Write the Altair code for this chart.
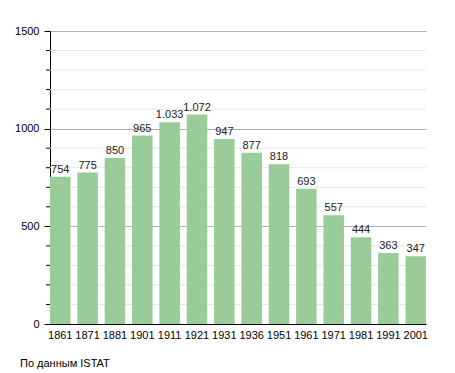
import altair as alt
import pandas as pd

years = ["1861", "1871", "1881", "1901", "1911", "1921", "1931", "1936", "1951", "1961", "1971", "1981", "1991", "2001"]
population = [754, 775, 850, 965, 1033, 1072, 947, 877, 818, 693, 557, 444, 363, 347]
labels = [f"{v:,}".replace(",", ".") for v in population]
major_ticks = [0, 500, 1000, 1500]
minor_ticks = [v for v in range(100, 1500, 100) if v % 500 != 0]

df = pd.DataFrame({"year": years, "pop": population, "label": labels})
minor_df = pd.DataFrame({"pop": minor_ticks})

font = "Liberation Sans"

yscale = alt.Scale(domain=[0, 1500], nice=False)

x = alt.X("year:N", sort=years, title=None,
          scale=alt.Scale(paddingInner=0.25, paddingOuter=0.0),
          axis=alt.Axis(labelAngle=0, ticks=False, domainColor="#000", labelColor="#000",
                        labelFontSize=11, labelFont=font, labelPadding=5, grid=False))
y = alt.Y("pop:Q", title=None, scale=yscale,
          axis=alt.Axis(values=major_ticks, format="d", labelOverlap=False, grid=True, gridColor="#b0b0b0",
                        domainColor="#000", tickColor="#000", tickSize=6,
                        labelColor="#000", labelFontSize=11, labelFont=font, labelPadding=5))

minor_grid = alt.Chart(minor_df).mark_rule(color="#e6e6e6", strokeWidth=1).encode(
    y=y, x=alt.value(0), x2=alt.value(376))
minor_tick = alt.Chart(minor_df).mark_rule(color="#000", strokeWidth=1).encode(
    y=alt.Y("pop:Q"), x=alt.value(-4), x2=alt.value(0))

bars = alt.Chart(df).mark_bar(color="#99cc99").encode(x=x, y=alt.Y("pop:Q"))
text = alt.Chart(df).mark_text(baseline="bottom", dy=-2, fontSize=11, font=font, color="#222").encode(
    x=alt.X("year:N", sort=years), y=alt.Y("pop:Q"), text="label:N")

chart = alt.layer(minor_grid, bars, text, minor_tick).properties(
    width=376, height=293,
    title=alt.TitleParams("По данным  ISTAT", orient="bottom", anchor="start", frame="group", dx=-30, offset=18,
                          fontSize=11, font=font, fontWeight="normal", color="#000"),
    padding={"left": 42, "top": 23, "right": 20, "bottom": 50},
    autosize=alt.AutoSizeParams(type="none"),
).configure_view(stroke=None)

chart.save("out.html", embed_options={"renderer": "svg", "actions": False})
